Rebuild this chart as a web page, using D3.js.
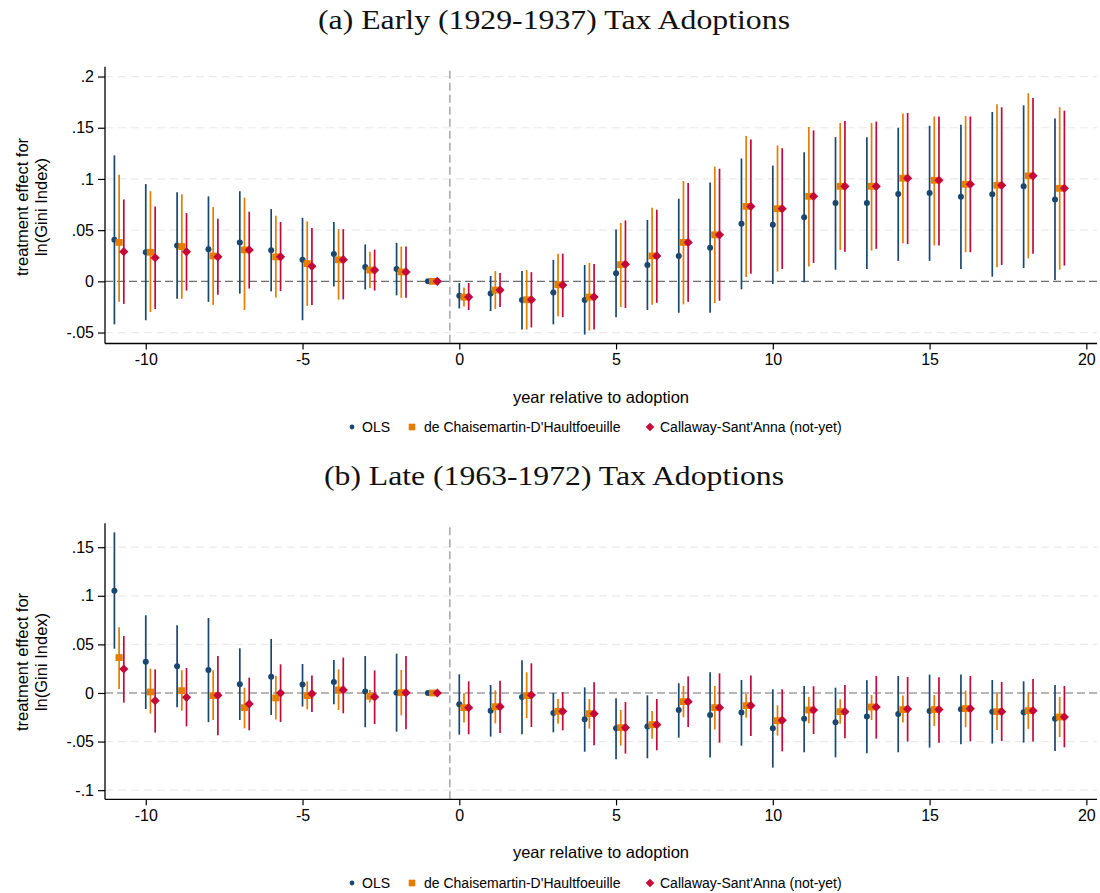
<!DOCTYPE html>
<html><head><meta charset="utf-8">
<script src="https://cdn.jsdelivr.net/npm/d3@7"></script>
<style>body{margin:0;background:#fff} svg{display:block}</style>
</head><body><svg id="chart" width="1100" height="893"></svg>
<script>
const years = [-11,-10,-9,-8,-7,-6,-5,-4,-3,-2,-1,0,1,2,3,4,5,6,7,8,9,10,11,12,13,14,15,16,17,18,19];
const seriesNames = ["OLS", "de Chaisemartin-D'Haultfoeuille", "Callaway-Sant'Anna (not-yet)"];
const xTicks = [-10,-5,0,5,10,15,20];
const xTickLabels = ["-10","-5","0","5","10","15","20"];
const yTicksA = [0.2,0.15,0.1,0.05,0,-0.05];
const yTickLabelsA = [".2",".15",".1",".05","0","-.05"];
const yTicksB = [0.15,0.1,0.05,0,-0.05,-0.1];
const yTickLabelsB = [".15",".1",".05","0","-.05","-.1"];

// Panel (a)
const olsA    = [0.0405,0.0284,0.035,0.0314,0.038,0.0304,0.0212,0.0268,0.014,0.0121,0,-0.014,-0.0118,-0.0183,-0.0108,-0.0183,0.0078,0.016,0.0248,0.0327,0.0562,0.0552,0.0627,0.0765,0.0765,0.0853,0.0863,0.0827,0.085,0.0928,0.080];
const olsA_hi = [0.123,0.095,0.087,0.083,0.088,0.0706,0.062,0.058,0.036,0.0376,0,-0.0016,0.0052,0.010,0.021,0.016,0.0507,0.060,0.0807,0.0964,0.12,0.113,0.126,0.1408,0.1408,0.150,0.152,0.153,0.1654,0.1719,0.159];
const olsA_lo = [-0.042,-0.038,-0.017,-0.020,-0.012,-0.0098,-0.038,-0.005,-0.008,-0.0137,0,-0.0265,-0.029,-0.047,-0.042,-0.052,-0.035,-0.028,-0.0307,-0.0307,-0.0078,-0.0026,-0.001,0.0114,0.0121,0.020,0.020,0.0121,0.0046,0.013,0.0013];
const dcdhA    = [0.038,0.0284,0.034,0.0248,0.0307,0.0239,0.0173,0.021,0.011,0.0092,0,-0.0154,-0.0085,-0.018,-0.0033,-0.0154,0.0163,0.0248,0.038,0.0454,0.0732,0.0709,0.083,0.0928,0.0928,0.1007,0.0987,0.0948,0.0938,0.103,0.0908];
const dcdhA_hi = [0.104,0.088,0.085,0.0725,0.0817,0.064,0.0585,0.051,0.0288,0.034,0,-0.0059,0.010,0.011,0.027,0.018,0.057,0.0719,0.098,0.112,0.142,0.1327,0.1507,0.1546,0.1546,0.164,0.161,0.1614,0.1729,0.1837,0.170];
const dcdhA_lo = [-0.020,-0.030,-0.017,-0.023,-0.028,-0.0157,-0.024,-0.018,-0.0065,-0.016,0,-0.0245,-0.027,-0.047,-0.034,-0.048,-0.025,-0.0229,-0.0225,-0.0212,0.0042,0.0095,0.0144,0.0307,0.030,0.0373,0.035,0.0284,0.0137,0.0225,0.0114];
const csA    = [0.029,0.023,0.0288,0.0239,0.0307,0.0239,0.0147,0.0212,0.011,0.0092,0,-0.0154,-0.0085,-0.018,-0.0036,-0.0154,0.0167,0.0248,0.038,0.0454,0.0732,0.0709,0.083,0.0928,0.0928,0.1007,0.0987,0.0948,0.0938,0.103,0.0908];
const csA_hi = [0.080,0.073,0.0667,0.061,0.068,0.058,0.052,0.051,0.031,0.034,0,-0.0016,0.0082,0.009,0.027,0.017,0.0595,0.070,0.096,0.110,0.1386,0.130,0.1474,0.1565,0.156,0.1644,0.161,0.161,0.170,0.179,0.1667];
const csA_lo = [-0.022,-0.027,-0.009,-0.013,-0.007,-0.0095,-0.023,-0.0176,-0.009,-0.016,0,-0.028,-0.025,-0.045,-0.035,-0.047,-0.026,-0.021,-0.020,-0.019,0.0075,0.0121,0.018,0.0288,0.0317,0.0363,0.035,0.0284,0.016,0.027,0.0154];

// Panel (b)
const olsB    = [0.1053,0.0322,0.0274,0.0237,0.0089,0.0168,0.0086,0.0113,0.0014,0.0003,0,-0.0117,-0.0182,-0.0041,-0.0206,-0.0271,-0.0364,-0.0346,-0.0175,-0.0226,-0.0202,-0.0364,-0.0264,-0.0302,-0.0243,-0.0216,-0.0185,-0.0168,-0.0192,-0.0199,-0.0264];
const olsB_hi = [0.1653,0.080,0.0696,0.0772,0.046,0.0556,0.0298,0.034,0.038,0.0405,0,0.0192,0.0082,0.0336,0,0.0058,-0.0055,-0.0024,0.01,0.0213,0.0134,0.0038,0.0072,0.0055,0.013,0.0175,0.0189,0.0189,0.0134,0.012,0.0082];
const olsB_lo = [0.0456,-0.0165,-0.0147,-0.030,-0.0278,-0.0226,-0.014,-0.0117,-0.0353,-0.0398,0,-0.0429,-0.0449,-0.0425,-0.0405,-0.0604,-0.0682,-0.0672,-0.046,-0.0665,-0.0542,-0.0768,-0.061,-0.0662,-0.062,-0.061,-0.0562,-0.0528,-0.0521,-0.0511,-0.0597];
const dcdhB    = [0.0364,0.001,0.0024,-0.0027,-0.0151,-0.0051,-0.0027,0.0031,-0.0034,0.0003,0,-0.0151,-0.0141,-0.0027,-0.0189,-0.0213,-0.0357,-0.0326,-0.0089,-0.0151,-0.013,-0.0285,-0.0175,-0.0192,-0.0144,-0.0171,-0.0171,-0.0161,-0.0192,-0.0182,-0.0247];
const dcdhB_hi = [0.0676,0.025,0.0233,0.0233,0.0055,0.0178,0.012,0.0243,0.003,0.0237,0,0,0.0027,0.0213,-0.0062,-0.0062,-0.0175,-0.0185,0.0072,0.0072,-0.001,-0.0127,-0.0041,-0.0065,-0.0021,-0.0027,-0.0021,0.0024,-0.0003,0.001,-0.0041];
const dcdhB_lo = [0.0041,-0.0213,-0.0182,-0.0278,-0.0364,-0.0274,-0.0168,-0.0175,-0.0099,-0.023,0,-0.0305,-0.0312,-0.026,-0.0316,-0.0367,-0.0542,-0.047,-0.025,-0.0377,-0.0254,-0.0439,-0.0312,-0.0316,-0.0278,-0.0305,-0.034,-0.0353,-0.038,-0.037,-0.0453];
const csB    = [0.0247,-0.0079,-0.0045,-0.0024,-0.0113,0,-0.0007,0.0031,-0.0041,0.0003,0,-0.0151,-0.0141,-0.0021,-0.0189,-0.0213,-0.0357,-0.0326,-0.0089,-0.0151,-0.013,-0.0281,-0.0175,-0.0192,-0.0144,-0.0165,-0.0171,-0.0161,-0.0192,-0.0182,-0.0247];
const csB_hi = [0.0586,0.0243,0.0257,0.038,0.0158,0.0295,0.018,0.0364,0.0233,0.038,0,0.012,0.0127,0.0305,0.0007,0.011,-0.0093,-0.0062,0.0171,0.0202,0.018,0.0038,0.0069,0.0082,0.0175,0.0165,0.0161,0.0175,0.0113,0.0144,0.0072];
const csB_lo = [-0.0099,-0.0408,-0.0343,-0.0436,-0.0384,-0.0298,-0.0195,-0.0209,-0.0319,-0.0374,0,-0.0425,-0.0412,-0.035,-0.0384,-0.0538,-0.0624,-0.059,-0.035,-0.0511,-0.0442,-0.060,-0.0422,-0.0466,-0.047,-0.050,-0.0511,-0.0497,-0.0494,-0.050,-0.0559];

const colors = ["#1a476f", "#e37e00", "#c4083a"];
const offsets = [0, 0.15, 0.3];
const sansFont = "'Liberation Sans', Arial, Helvetica, sans-serif";
const serifFont = "'Liberation Serif', 'Times New Roman', serif";

const svg = d3.select("#chart");
svg.append("rect").attr("width",1100).attr("height",893).attr("fill","#fff");

function diamondPath(r){ return `M0,${-r}L${r},0L0,${r}L${-r},0Z`; }

function drawPanel(cfg){
  const g = svg.append("g");
  const x = d3.scaleLinear().domain([-11.3, 20.34]).range([105, 1097]);
  const y = d3.scaleLinear().domain(cfg.yDomain).range([cfg.bottom, cfg.top]);

  // title
  g.append("text").attr("x", 554).attr("y", cfg.titleY)
    .attr("text-anchor","middle").attr("font-family", serifFont)
    .attr("font-size", 28).attr("fill","#111")
    .attr("textLength", cfg.titleLen).attr("lengthAdjust","spacingAndGlyphs")
    .text(cfg.title);

  // gridlines
  g.append("g").selectAll("line").data(cfg.yTicks.filter(d => d !== 0)).join("line")
    .attr("x1", 105).attr("x2", 1097)
    .attr("y1", d => y(d)).attr("y2", d => y(d))
    .attr("stroke", "#eaeaea").attr("stroke-width", 1.2).attr("stroke-dasharray", "8,5");

  // zero line
  g.append("line").attr("x1",105).attr("x2",1097).attr("y1",y(0)).attr("y2",y(0))
    .attr("stroke","#6e6e6e").attr("stroke-width",1.2).attr("stroke-dasharray","8,4");

  // vertical reference line
  g.append("line").attr("x1", x(-0.3)).attr("x2", x(-0.3)).attr("y1", cfg.top + 4).attr("y2", cfg.bottom)
    .attr("stroke","#9a9a9a").attr("stroke-width",1.3).attr("stroke-dasharray","8,4");

  // y axis
  const yAxis = d3.axisLeft(y).tickValues(cfg.yTicks).tickFormat((d,i) => cfg.yTickLabels[i]).tickSize(7).tickPadding(4);
  const ya = g.append("g").attr("transform","translate(105,0)").call(yAxis);
  ya.select(".domain").attr("d", `M0,${cfg.top}V${cfg.bottom}`).attr("stroke","#000").attr("stroke-width",1.3);
  ya.selectAll(".tick line").attr("stroke","#000").attr("stroke-width",1.2);
  ya.selectAll(".tick text").attr("font-family", sansFont).attr("font-size", 16).attr("fill","#000");

  // x axis
  const xAxis = d3.axisBottom(x).tickValues(xTicks).tickFormat((d,i) => xTickLabels[i]).tickSize(6).tickPadding(4);
  const xa = g.append("g").attr("transform",`translate(0,${cfg.bottom})`).call(xAxis);
  xa.select(".domain").attr("d", "M105,0H1097").attr("stroke","#000").attr("stroke-width",1.3);
  xa.selectAll(".tick line").attr("stroke","#000").attr("stroke-width",1.2);
  xa.selectAll(".tick text").attr("font-family", sansFont).attr("font-size", 16).attr("fill","#000");

  // y axis title
  const yt = g.append("text").attr("transform", `translate(28,${cfg.yTitleY}) rotate(-90)`)
    .attr("text-anchor","middle").attr("font-family", sansFont).attr("font-size",16.5).attr("fill","#000");
  yt.append("tspan").attr("x",0).attr("dy",0).text("treatment effect for");
  yt.append("tspan").attr("x",0).attr("dy",19).text("ln(Gini Index)");

  // x axis title
  g.append("text").attr("x", 601).attr("y", cfg.xTitleY).attr("text-anchor","middle")
    .attr("font-family", sansFont).attr("font-size",16.5).attr("fill","#000")
    .text("year relative to adoption");

  // CI spikes
  cfg.series.forEach((s, si) => {
    g.append("g").selectAll("line").data(years.map((t,i)=>({t, lo:s.lo[i], hi:s.hi[i]})).filter(d => d.hi !== d.lo)).join("line")
      .attr("x1", d => x(d.t + offsets[si])).attr("x2", d => x(d.t + offsets[si]))
      .attr("y1", d => y(d.lo)).attr("y2", d => y(d.hi))
      .attr("stroke", colors[si]).attr("stroke-width", 1.7);
  });
  // points
  cfg.series.forEach((s, si) => {
    const data = years.map((t,i)=>({t, v:s.v[i]}));
    const sel = g.append("g").selectAll("path").data(data).join("path")
      .attr("transform", d => `translate(${x(d.t + offsets[si])},${y(d.v)})`)
      .attr("fill", colors[si]);
    if (si === 0) sel.attr("d", d3.symbol().type(d3.symbolCircle).size(Math.PI*3*3));
    else if (si === 1) sel.attr("d", "M-3.6,-3.4H3.6V3.4H-3.6Z");
    else sel.attr("d", diamondPath(4.6));
  });

  // legend
  const lg = g.append("g").attr("font-family", sansFont).attr("font-size",14).attr("fill","#000");
  const ly = cfg.legendY;
  const items = [
    {mx:352, tx:362, shape:"c"},
    {mx:412, tx:424, shape:"s"},
    {mx:650, tx:660, shape:"d"}
  ];
  items.forEach((it, i) => {
    let p = lg.append("path").attr("transform", `translate(${it.mx},${ly})`).attr("fill", colors[i]);
    if (it.shape === "c") p.attr("d", d3.symbol().type(d3.symbolCircle).size(Math.PI*2.4*2.4));
    else if (it.shape === "s") p.attr("d", "M-3.3,-3.3H3.3V3.3H-3.3Z");
    else p.attr("d", diamondPath(4.3));
    lg.append("text").attr("x", it.tx).attr("y", ly + 5).text(seriesNames[i]);
  });
}

drawPanel({
  title: "(a) Early (1929-1937) Tax Adoptions", titleY: 29, titleLen: 472,
  yDomain: [-0.0607, 0.2096], top: 66.7, bottom: 343.5,
  yTicks: yTicksA, yTickLabels: yTickLabelsA,
  yTitleY: 207, xTitleY: 403, legendY: 427,
  series: [
    {v: olsA, lo: olsA_lo, hi: olsA_hi},
    {v: dcdhA, lo: dcdhA_lo, hi: dcdhA_hi},
    {v: csA, lo: csA_lo, hi: csA_hi}
  ]
});
drawPanel({
  title: "(b) Late (1963-1972) Tax Adoptions", titleY: 485, titleLen: 460,
  yDomain: [-0.1094, 0.1746], top: 523.3, bottom: 799.3,
  yTicks: yTicksB, yTickLabels: yTickLabelsB,
  yTitleY: 662, xTitleY: 858, legendY: 883,
  series: [
    {v: olsB, lo: olsB_lo, hi: olsB_hi},
    {v: dcdhB, lo: dcdhB_lo, hi: dcdhB_hi},
    {v: csB, lo: csB_lo, hi: csB_hi}
  ]
});
</script></body></html>
